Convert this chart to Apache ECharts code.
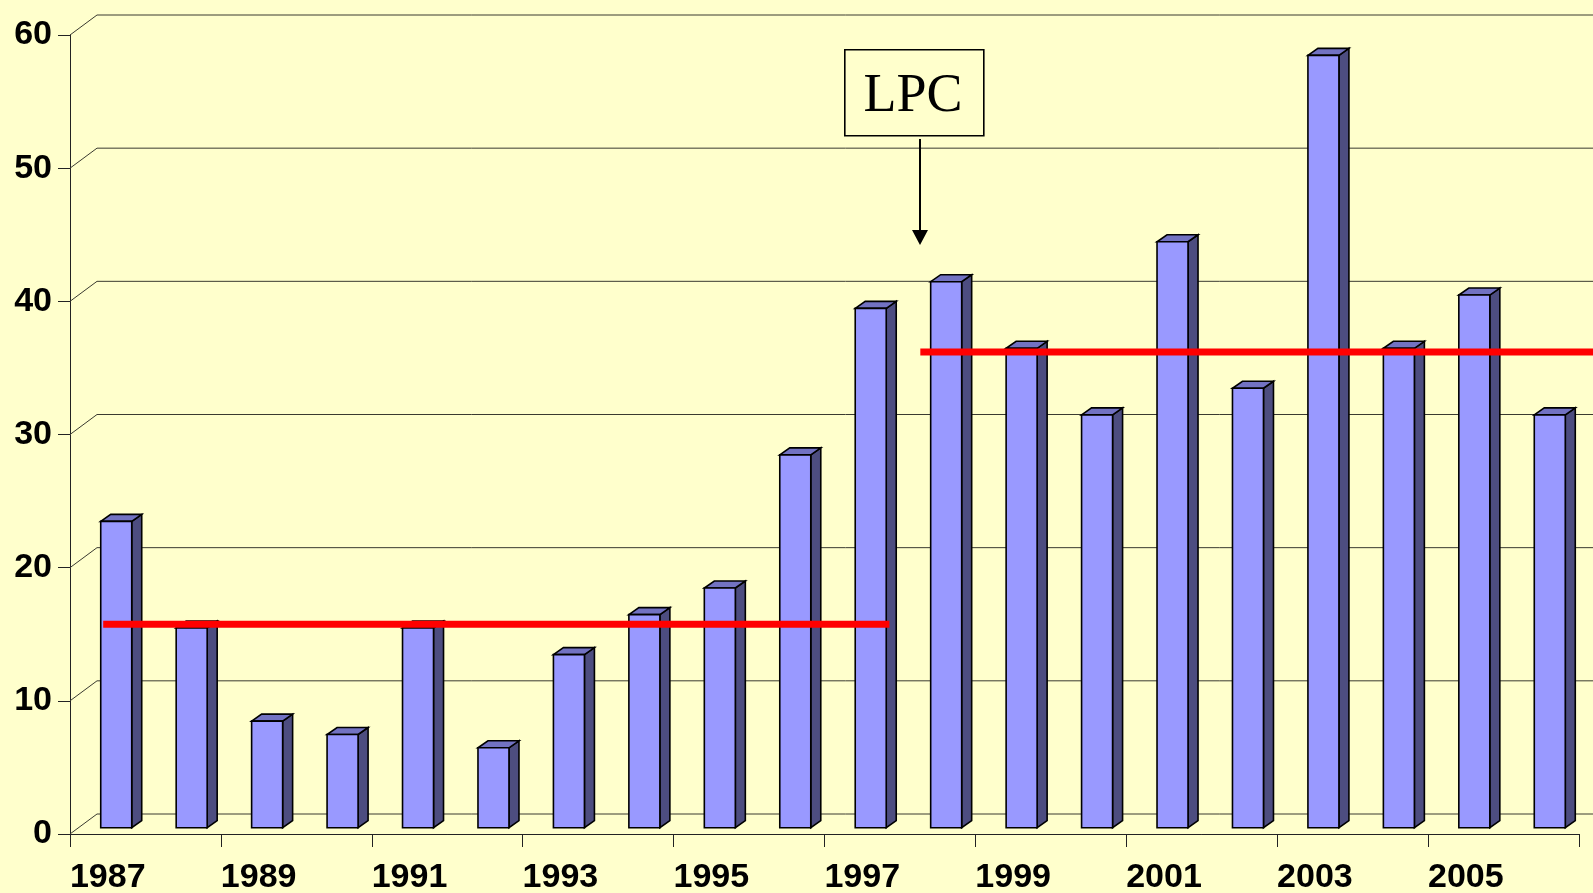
<!DOCTYPE html>
<html>
<head>
<meta charset="utf-8">
<script src="https://cdn.jsdelivr.net/npm/echarts@6/dist/echarts.min.js"></script>
<style>
html,body{margin:0;padding:0;background:#FFFFCC;}
#c{width:1593px;height:893px;}
</style>
</head>
<body>
<div id="c"></div>
<script>
// ---- data ----
const years = ['1987','1988','1989','1990','1991','1992','1993','1994','1995','1996',
               '1997','1998','1999','2000','2001','2002','2003','2004','2005','2006'];
const counts = [23,15,8,7,15,6,13,16,18,28,39,41,36,31,44,33,58,36,40,31];
const yTicks = [0,10,20,30,40,50,60];
// average lines: start / end (category position), value
const lineStarts = [-0.06, 10.77];
const lineEnds = [10.36, 20.5];
const lineValues = [15.75, 36.2];
const annotationText = 'LPC';

// ---- 3D look constants (pixels) ----
const WALL_DX = 27, WALL_DY = 20;
const BAR_SHIFT_X = 8.5, BAR_SHIFT_Y = 6.3;
const BAR_W = 31, BAR_DX = 10, BAR_DY = 7;

const chart = echarts.init(document.getElementById('c'));
const font = "'Liberation Sans', Arial, sans-serif";

const option = {
  backgroundColor: '#FFFFCC',
  animation: false,
  grid: { left: 70, right: 14, top: 35, bottom: 59, containLabel: false, outerBoundsMode: 'none' },
  xAxis: {
    type: 'category',
    data: years,
    axisLine: { show: true, lineStyle: { color: '#222', width: 1 } },
    axisTick: { show: true, length: 13, lineStyle: { color: '#222', width: 1 } },
    axisLabel: { interval: 1, margin: 27, color: '#000', fontSize: 34, fontWeight: 'bold', fontFamily: font },
    splitLine: { show: false }
  },
  yAxis: {
    type: 'value', min: 0, max: 60, interval: 10,
    axisLine: { show: true, lineStyle: { color: '#222', width: 1 } },
    axisTick: { show: true, length: 12, lineStyle: { color: '#222', width: 1 } },
    axisLabel: { margin: 18, padding: [6, 0, 0, 0], color: '#000', fontSize: 34, fontWeight: 'bold', fontFamily: font },
    splitLine: { show: false }
  },
  series: [
    {
      // back wall gridlines with left-wall diagonals
      type: 'custom', silent: true, z: 1,
      data: yTicks.map(v => [0, v]),
      renderItem: function (params, api) {
        const p = api.coord([0, api.value(1)]);
        const band = api.size([1, 0])[0];
        const x0 = p[0] - band / 2, y = p[1];
        return {
          type: 'polyline',
          shape: { points: [[x0, y], [x0 + WALL_DX, y - WALL_DY], [2200, y - WALL_DY]] },
          style: { stroke: '#3a3a30', lineWidth: 1, fill: null }
        };
      }
    },
    {
      // 3D bars
      type: 'custom', z: 2,
      data: counts.map((v, i) => [i, v]),
      renderItem: function (params, api) {
        const idx = api.value(0), v = api.value(1);
        const base = api.coord([idx, 0]);
        const top = api.coord([idx, v]);
        const cx = base[0] + BAR_SHIFT_X;
        const L = cx - BAR_W / 2, R = cx + BAR_W / 2;
        const yb = base[1] - BAR_SHIFT_Y, yt = top[1] - BAR_SHIFT_Y;
        const stroke = { stroke: '#000', lineWidth: 1.6, lineJoin: 'miter' };
        return {
          type: 'group',
          children: [
            { type: 'polygon',
              shape: { points: [[R, yb], [R, yt], [R + BAR_DX, yt - BAR_DY], [R + BAR_DX, yb - BAR_DY]] },
              style: Object.assign({ fill: '#4D4D80' }, stroke) },
            { type: 'polygon',
              shape: { points: [[L, yt], [R, yt], [R + BAR_DX, yt - BAR_DY], [L + BAR_DX, yt - BAR_DY]] },
              style: Object.assign({ fill: '#7272C2' }, stroke) },
            { type: 'rect',
              shape: { x: L, y: yt, width: BAR_W, height: yb - yt },
              style: Object.assign({ fill: '#9999FF' }, stroke) }
          ]
        };
      }
    },
    {
      // red average lines
      type: 'custom', z: 3, silent: true,
      data: lineValues.map(v => [0, v]),
      renderItem: function (params, api) {
        const i = params.dataIndex;
        const p = api.coord([0, api.value(1)]);
        const band = api.size([1, 0])[0];
        return {
          type: 'line',
          shape: { x1: p[0] + lineStarts[i] * band, y1: p[1], x2: p[0] + lineEnds[i] * band, y2: p[1] },
          style: { stroke: '#FF0000', lineWidth: 7 }
        };
      }
    }
  ],
  graphic: [
    { type: 'rect', left: 844, top: 49, z: 10,
      shape: { width: 139, height: 86 },
      style: { fill: 'rgba(0,0,0,0)', stroke: '#000', lineWidth: 1.6 } },
    { type: 'text', z: 11, x: 913, y: 97,
      style: { text: annotationText, fill: '#000', font: "54px 'Liberation Serif', 'Times New Roman', serif",
               textAlign: 'center', textVerticalAlign: 'middle' } },
    { type: 'line', z: 10,
      shape: { x1: 920, y1: 139, x2: 920, y2: 232 },
      style: { stroke: '#000', lineWidth: 2 } },
    { type: 'polygon', z: 10,
      shape: { points: [[912, 230], [928, 230], [920, 245]] },
      style: { fill: '#000' } }
  ]
};
chart.setOption(option);
</script>
</body>
</html>
